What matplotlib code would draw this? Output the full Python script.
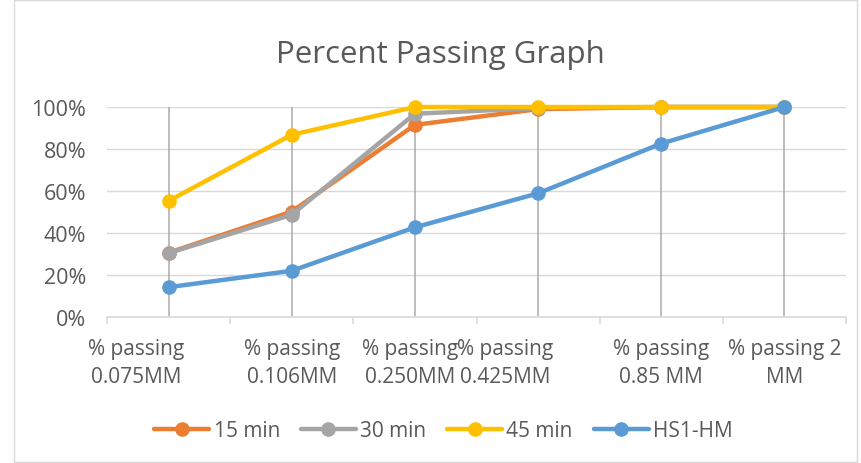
import matplotlib
matplotlib.use("Agg")
import matplotlib.pyplot as plt
import matplotlib.transforms as mtransforms
from matplotlib.patches import Rectangle
from matplotlib.ticker import PercentFormatter

# sieve categories
categories = ["% passing\n0.075MM", "% passing\n0.106MM", "% passing\n0.250MM",
              "% passing\n0.425MM", "% passing\n0.85 MM", "% passing 2\nMM"]

# percent passing per series
min15 = [0.306, 0.502, 0.915, 0.99, 1.0, 1.0]
min30 = [0.304, 0.487, 0.968, 0.995, 1.0, 1.0]
min45 = [0.553, 0.868, 1.0, 1.0, 1.0, 1.0]
hs1_hm = [0.142, 0.22, 0.427, 0.589, 0.826, 1.0]

series_names = ["15 min", "30 min", "45 min", "HS1-HM"]
colors = ["#ED7D31", "#A5A5A5", "#FFC000", "#5B9BD5"]

text_color = "#595959"
plt.rcParams['font.family'] = ['Open Sans', 'DejaVu Sans']

fig = plt.figure(figsize=(8.61, 4.64), dpi=100)
ax = fig.add_axes([0.1243, 0.3147, 0.8583, 0.4525])

x = list(range(len(categories)))

# horizontal gridlines
for y in [0.2, 0.4, 0.6, 0.8, 1.0]:
    ax.axhline(y, color="#D9D9D9", lw=1.0, zorder=0)
# vertical lines at each category
for xi in x:
    ax.plot([xi, xi], [0, 1], color="#ABABAB", lw=1.1, zorder=1)

for vals, name, c in zip([min15, min30, min45, hs1_hm], series_names, colors):
    ax.plot(x, vals, color=c, lw=3.2, marker="o", markersize=9.5,
            label=name, zorder=3, solid_capstyle="round", clip_on=False)

ax.set_xlim(-0.5, len(categories) - 0.5)
ax.set_ylim(0, 1.0)
ax.set_yticks([0, 0.2, 0.4, 0.6, 0.8, 1.0])
ax.yaxis.set_major_formatter(PercentFormatter(1.0, decimals=0))

for s in ["top", "right", "left"]:
    ax.spines[s].set_visible(False)
ax.spines["bottom"].set_color("#D9D9D9")
ax.spines["bottom"].set_linewidth(1.2)

ax.tick_params(axis="y", length=0, labelsize=15.5, labelcolor=text_color, pad=15)
ax.set_xticks([i - 0.5 for i in range(len(categories) + 1)], minor=False)
ax.set_xticklabels([])
ax.tick_params(axis="x", which="major", length=5, color="#D9D9D9", width=1.2)
ax.set_xticks(x, minor=True)
ax.set_xticklabels(categories, minor=True)
ax.tick_params(axis="x", which="minor", length=0, labelsize=15,
               labelcolor=text_color, pad=15)

# Excel placed some of the wrapped labels off-centre
shift = {0: -32, 2: -5, 3: -33}
for i, lab in enumerate(ax.get_xticklabels(minor=True)):
    if i in shift:
        off = mtransforms.ScaledTranslation(shift[i] / 100, 0, fig.dpi_scale_trans)
        lab.set_transform(lab.get_transform() + off)
    lab.set_linespacing(1.45)

fig.text(0.511, 0.881, "Percent Passing Graph", ha="center", va="center",
         fontsize=22.5, color=text_color)

leg = fig.legend(loc="center", bbox_to_anchor=(0.515, 0.069), ncol=4,
                 frameon=False, fontsize=15, handlelength=2.65,
                 handletextpad=0.2, columnspacing=1.0)
for t in leg.get_texts():
    t.set_color(text_color)

fig.patches.append(Rectangle((14 / 861, 0.003), 843 / 861, 0.994, transform=fig.transFigure,
                             fill=False, edgecolor="#D9D9D9", lw=1))

fig.savefig("out.png", dpi=100)
